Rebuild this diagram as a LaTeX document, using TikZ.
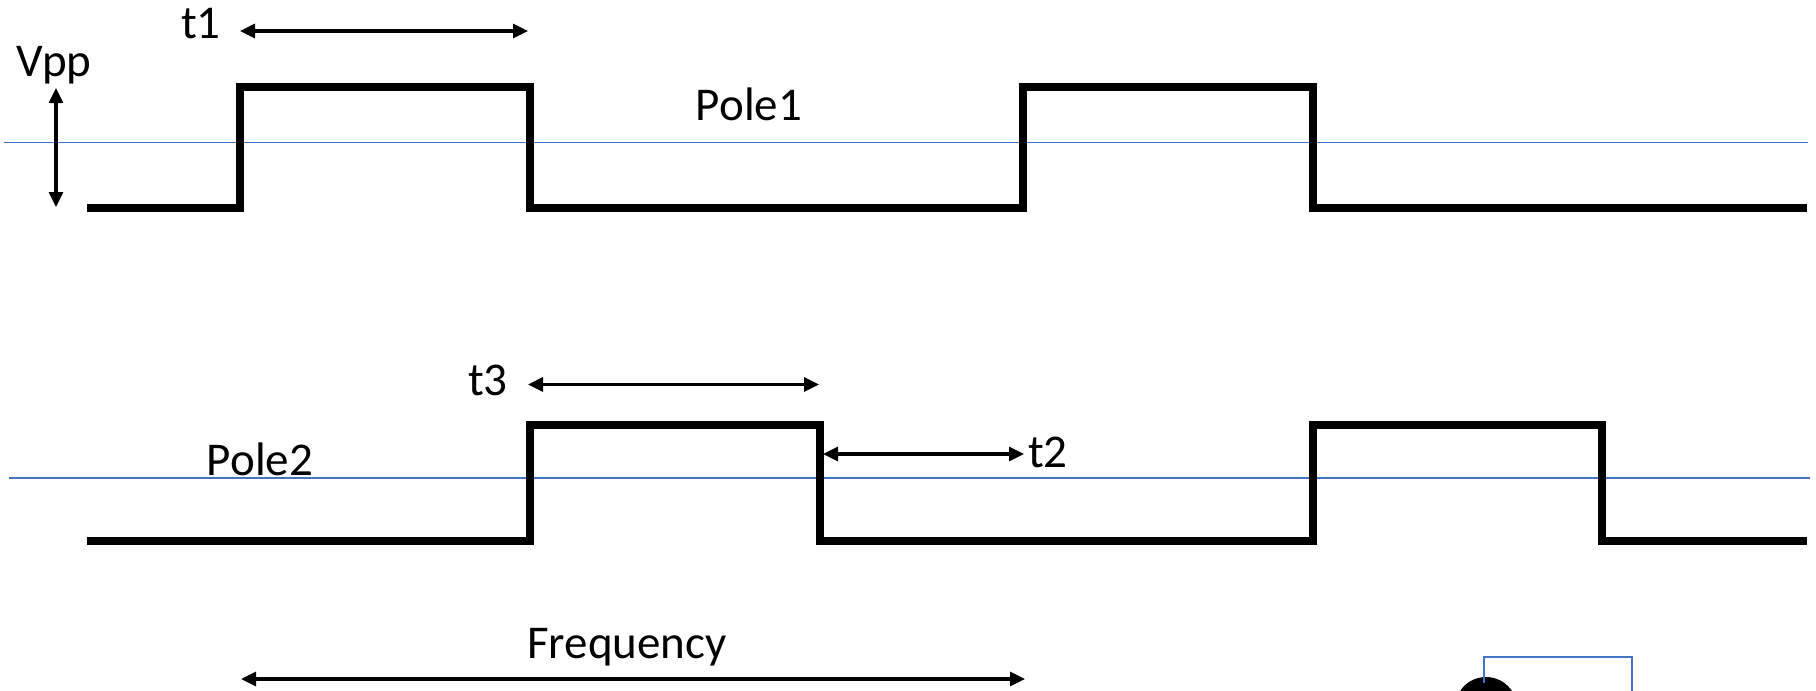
\documentclass[tikz,border=0pt]{standalone}
\usepackage{fontspec}
\setmainfont{Carlito}
\usetikzlibrary{arrows.meta}
\definecolor{refblue}{HTML}{4472C4}
\begin{document}
\begin{tikzpicture}[x=1pt,y=-1pt,
  wave/.style={line width=8pt,line join=miter,line cap=butt},
  refline/.style={draw=refblue,line width=1.6pt},
  dimarrow/.style={line width=3.2pt,{Triangle[length=15pt,width=14pt]}-{Triangle[length=15pt,width=14pt]}},
  lbl/.style={anchor=base,inner sep=0pt,font=\fontsize{47}{56}\selectfont}]
\useasboundingbox (0,0) rectangle (1816,691);
% reference lines
\coordinate (b1l) at (4,142.5); \coordinate (b1r) at (1808,142.5);
\coordinate (b2l) at (9,478); \coordinate (b2r) at (1810,478);
\draw[refline] (b1l) -- (b1r);
\draw[refline] (b2l) -- (b2r);
% Pole1 waveform
\draw[wave] (87,207.5) -- (240,207.5) -- (240,87) -- (530,87) -- (530,207.5) -- (1023,207.5) -- (1023,87) -- (1313,87) -- (1313,207.5) -- (1807,207.5);
% Pole2 waveform
\draw[wave] (87,541) -- (530,541) -- (530,425) -- (820,425) -- (820,541) -- (1313,541) -- (1313,425) -- (1602,425) -- (1602,541) -- (1807,541);
% labels
\node[lbl] (t1) at (201,38) {t1};
\node[lbl] (vpp) at (54,76.5) {Vpp};
\node[lbl] (pole1) at (749,120.5) {Pole1};
\node[lbl] (t3) at (488,395) {t3};
\node[lbl] (t2) at (1048,467) {t2};
\node[lbl] (pole2) at (260,475) {Pole2};
\node[lbl] (freq) at (627,658) {Frequency};
% dimension arrows
\coordinate (t1a) at (240,31); \coordinate (t1b) at (528,31);
\draw[dimarrow] (t1a) -- (t1b);
\coordinate (va) at (56,88); \coordinate (vb) at (56,207);
\draw[dimarrow] (va) -- (vb);
\coordinate (t3a) at (528,384.5); \coordinate (t3b) at (819,384.5);
\draw[dimarrow] (t3a) -- (t3b);
\coordinate (t2a) at (823,454); \coordinate (t2b) at (1024,454);
\draw[dimarrow] (t2a) -- (t2b);
\coordinate (fa) at (241,679); \coordinate (fb) at (1025,679);
\draw[dimarrow] (fa) -- (fb);
% bottom right fragment
\fill (1486,708) circle (31);
\coordinate (r1) at (1484,683); \coordinate (r2) at (1484,656.5);
\coordinate (r3) at (1632,656.5); \coordinate (r4) at (1632,700);
\draw[draw=refblue,line width=2pt] (r1) -- (r2) -- (r3) -- (r4);
\end{tikzpicture}
\end{document}
